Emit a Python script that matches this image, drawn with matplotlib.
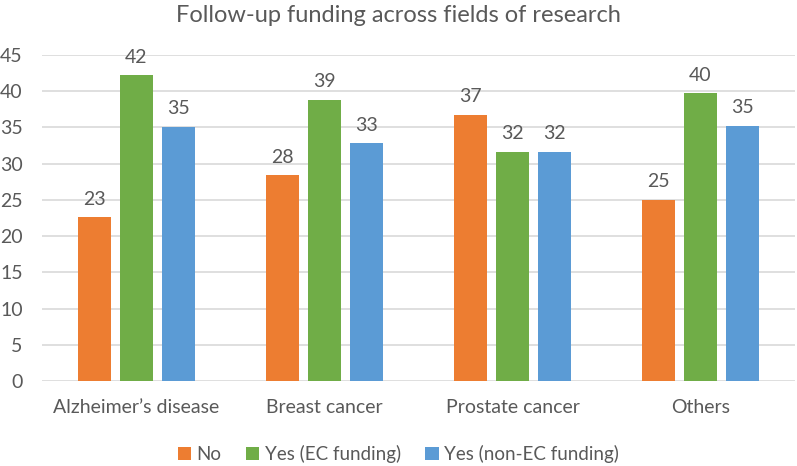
import numpy as np
import matplotlib
matplotlib.use("Agg")
import matplotlib.pyplot as plt

# datos
campos = ["Alzheimer\u2019s disease", "Breast cancer", "Prostate cancer", "Others"]
series = ["No", "Yes (EC funding)", "Yes (non-EC funding)"]
no_fund = [22.6, 28.4, 36.7, 25.0]
ec_fund = [42.2, 38.8, 31.6, 39.7]
nonec_fund = [35.1, 32.8, 31.6, 35.2]
colores = ["#ED7D31", "#70AD47", "#5B9BD5"]

plt.rcParams['font.family'] = ['Lato', 'DejaVu Sans']
gris = "#595959"

fig = plt.figure(figsize=(7.97, 4.66), dpi=100)
ax = fig.add_axes([0.053, 0.182, 0.944, 0.700])

x = np.arange(len(campos))
ancho = 0.175
paso = 0.223
for i, (vals, nombre) in enumerate(zip([no_fund, ec_fund, nonec_fund], series)):
    barras = ax.bar(x + (i - 1) * paso, vals, width=ancho, color=colores[i], label=nombre, zorder=3)
    for b, v in zip(barras, vals):
        ax.annotate(f"{v:.0f}", (b.get_x() + b.get_width() / 2, v), xytext=(0, 7),
                    textcoords="offset points", ha="center", va="bottom",
                    fontsize=14, color=gris)

ax.set_xlim(-0.5, len(campos) - 0.5)
ax.set_ylim(0, 45)
ax.set_yticks(range(0, 46, 5))
ax.grid(axis="y", color="#D9D9D9", linewidth=1.2, zorder=0)
for s in ax.spines.values():
    s.set_visible(False)
ax.tick_params(axis="both", length=0, labelsize=14, labelcolor=gris)
ax.tick_params(axis="x", pad=13)
ax.tick_params(axis="y", pad=14)
ax.set_xticks(x)
ax.set_xticklabels(campos)

fig.suptitle("Follow-up funding across fields of research", x=0.5, y=0.99,
             fontsize=17, color=gris)

fig.legend(loc="center", bbox_to_anchor=(0.5, 0.025), ncol=3, frameon=False,
           fontsize=13.5, labelcolor=gris, handlelength=0.7, handleheight=0.7,
           handletextpad=0.3, columnspacing=1.3)

fig.savefig("out.png", dpi=100)
